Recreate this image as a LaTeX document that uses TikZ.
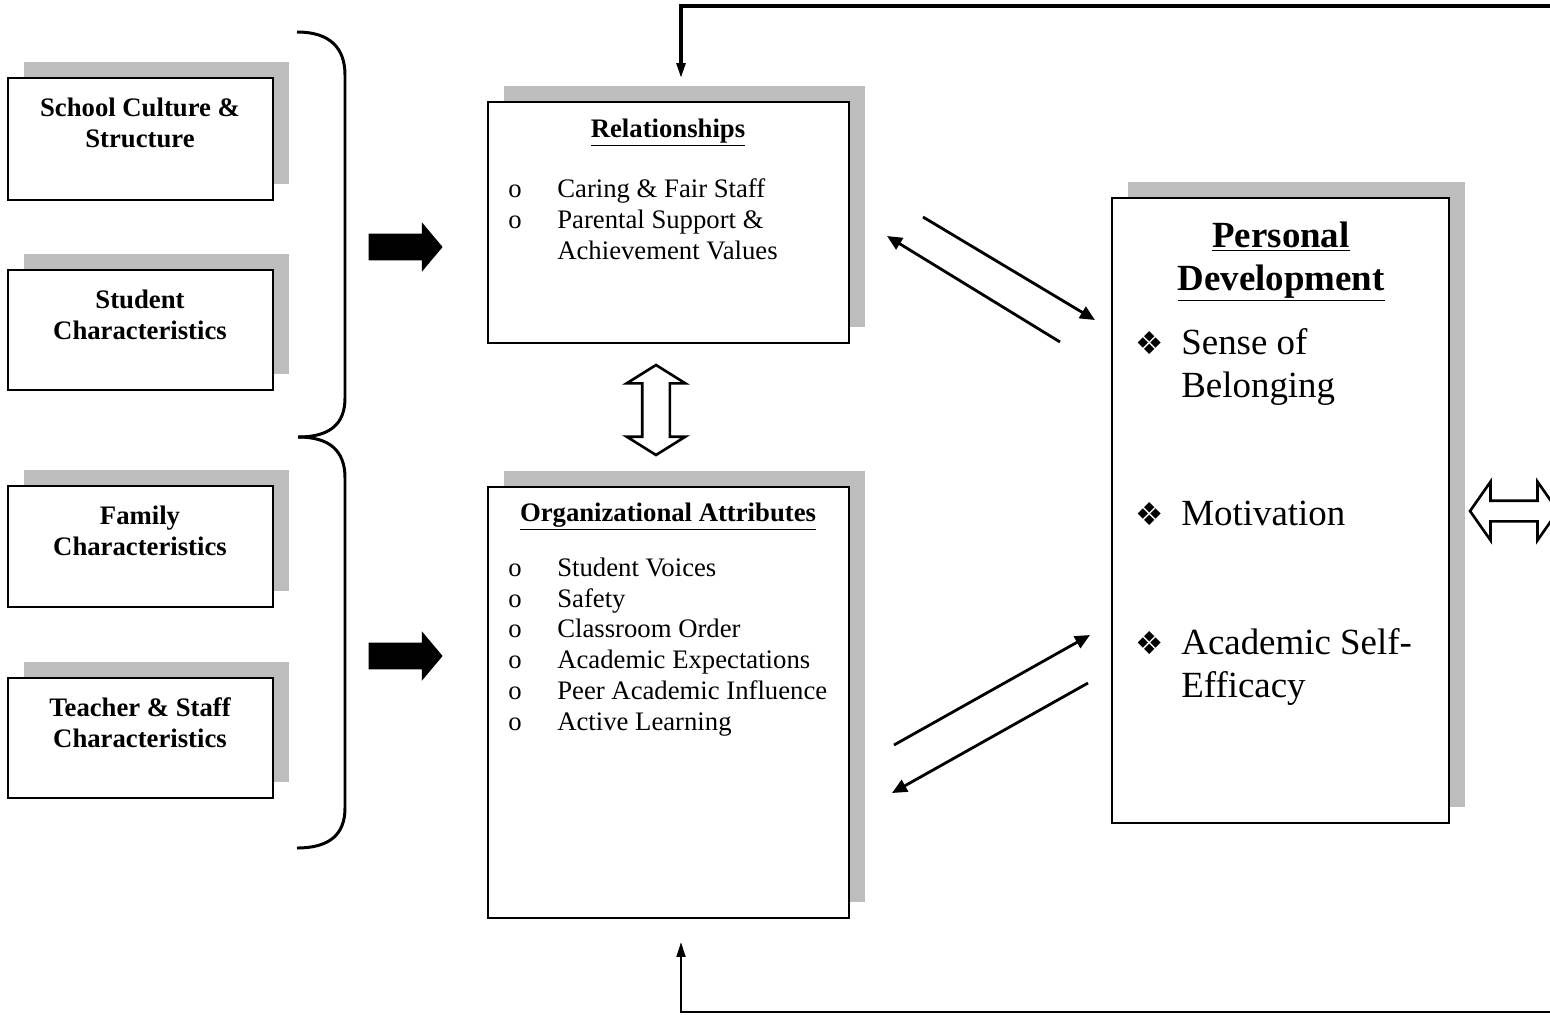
\documentclass[tikz,border=0pt]{standalone}
\usepackage{fontspec}
\setmainfont{Liberation Serif}
\newfontfamily\symfont{DejaVu Sans}
\usetikzlibrary{shapes.arrows,shadows,fit,arrows.meta}
\definecolor{shGray}{HTML}{BDBDBD}

\newcommand{\obul}{\makebox[0.98cm][l]{o}}
\newcommand{\pbul}{\makebox[0.92cm][l]{\symfont\fontsize{18}{18}\selectfont ❖}}

\begin{document}
\begin{tikzpicture}[x=0.02cm,y=-0.02cm,
  box/.style={draw=black,fill=white,line width=1.1pt,inner sep=0pt,
    general shadow={fill=shGray,shadow xshift=0.32cm,shadow yshift=0.32cm}},
  lbl/.style={font=\fontsize{15.2}{17.6}\selectfont\bfseries,align=center,inner sep=0pt},
  itm/.style={font=\fontsize{15.2}{17.5}\selectfont,align=left,inner sep=0pt},
  big/.style={font=\fontsize{21}{24.4}\selectfont,align=left,inner sep=0pt},
  fatarrow/.style={single arrow,fill=black,inner xsep=0pt,inner ysep=0.26cm,
    minimum height=1.48cm,single arrow head extend=0.23cm,single arrow tip angle=100},
  hollow/.style={double arrow,draw=black,fill=white,line width=1.5pt,inner xsep=0pt},
  thinarr/.style={line width=1.6pt,-{Triangle[length=8.5pt,width=7.5pt]}},
  loopline/.style={line width=1.8pt,-{Triangle[length=8.5pt,width=5pt]}},
  brace/.style={line width=1.7pt}]
  \useasboundingbox (0,0) rectangle (1550,1014);

  % left column
  \node[box,fit={(8,78) (273,200)}] (school) {};
  \node[box,fit={(8,270) (273,390)}] (student) {};
  \node[box,fit={(8,486) (273,607)}] (family) {};
  \node[box,fit={(8,678) (273,798)}] (teacher) {};
  \node[lbl,anchor=base] (schoolT) at (140,147) {School Culture \&\\Structure};
  \node[lbl,anchor=base] (studentT) at (140,339) {Student\\Characteristics};
  \node[lbl,anchor=base] (familyT) at (140,555) {Family\\Characteristics};
  \node[lbl,anchor=base] (teacherT) at (140,747) {Teacher \& Staff\\Characteristics};

  % braces
  \coordinate (brTop) at (297,32);
  \coordinate (brMid) at (298,437);
  \coordinate (brBot) at (297,848);
  \draw[brace] (brTop) .. controls (330,32) and (345,48) .. (345,75) -- (345,398)
    .. controls (345,424) and (330,437) .. (brMid);
  \draw[brace] (brMid) .. controls (330,437) and (345,451) .. (345,478) -- (345,808)
    .. controls (345,834) and (330,848) .. (brBot);

  % middle column
  \node[box,fit={(488,102) (849,343)}] (rel) {};
  \node[box,fit={(488,487) (849,918)}] (org) {};
  \node[lbl,anchor=base] (relT) at (668,137) {\underline{Relationships}};
  \node[itm,anchor=base west] (relL) at (508,259)
    {\obul Caring \& Fair Staff\\\obul Parental Support \&\\\hspace*{0.98cm}Achievement Values};
  \node[lbl,anchor=base] (orgT) at (668,521) {\underline{Organizational Attributes}};
  \node[itm,anchor=base west] (orgL) at (508,730)
    {\obul Student Voices\\\obul Safety\\\obul Classroom Order\\\obul Academic Expectations\\
     \obul Peer Academic Influence\\\obul Active Learning};

  \node[fatarrow] (fatA) at (400,247) {};
  \node[fatarrow] (fatB) at (400,656) {};
  \node[hollow,rotate=90,inner ysep=0.25cm,minimum height=1.8cm,
    double arrow head extend=0.31cm,double arrow tip angle=116] (relOrg) at (656,410) {};

  % right column
  \node[box,fit={(1112,198) (1449,823)}] (pers) {};
  \node[font=\fontsize{21}{24.4}\selectfont\bfseries,align=center,inner sep=0pt,anchor=base]
    (persT) at (1281,290) {\underline{Personal}\\\underline{Development}};
  \node[big,anchor=base west] (persA) at (1135,397) {\pbul Sense of\\\hspace*{0.92cm}Belonging};
  \node[big,anchor=base west] (persB) at (1135,525) {\pbul Motivation};
  \node[big,anchor=base west] (persC) at (1135,697) {\pbul Academic Self-\\\hspace*{0.92cm}Efficacy};
  \node[hollow,inner ysep=0.18cm,minimum height=1.76cm,
    double arrow head extend=0.38cm,double arrow tip angle=110] (persOut) at (1514,511) {};

  % thin arrows
  \coordinate (relA) at (923,217);
  \coordinate (persIn) at (1095,320);
  \coordinate (persOutA) at (1060,342);
  \coordinate (relB) at (887,236);
  \coordinate (orgA) at (894,745);
  \coordinate (persIn2) at (1090,635);
  \coordinate (persOutB) at (1088,683);
  \coordinate (orgB) at (892,793);
  \draw[thinarr] (relA) -- (persIn);
  \draw[thinarr] (persOutA) -- (relB);
  \draw[thinarr] (orgA) -- (persIn2);
  \draw[thinarr] (persOutB) -- (orgB);

  % feedback loops
  \coordinate (topR) at (1560,6);
  \coordinate (relIn) at (681,78);
  \coordinate (botR) at (1560,1012);
  \coordinate (orgIn) at (681,942);
  \draw[loopline] (topR) -| (relIn);
  \draw[loopline,line width=1.3pt] (botR) -| (orgIn);
\end{tikzpicture}
\end{document}
